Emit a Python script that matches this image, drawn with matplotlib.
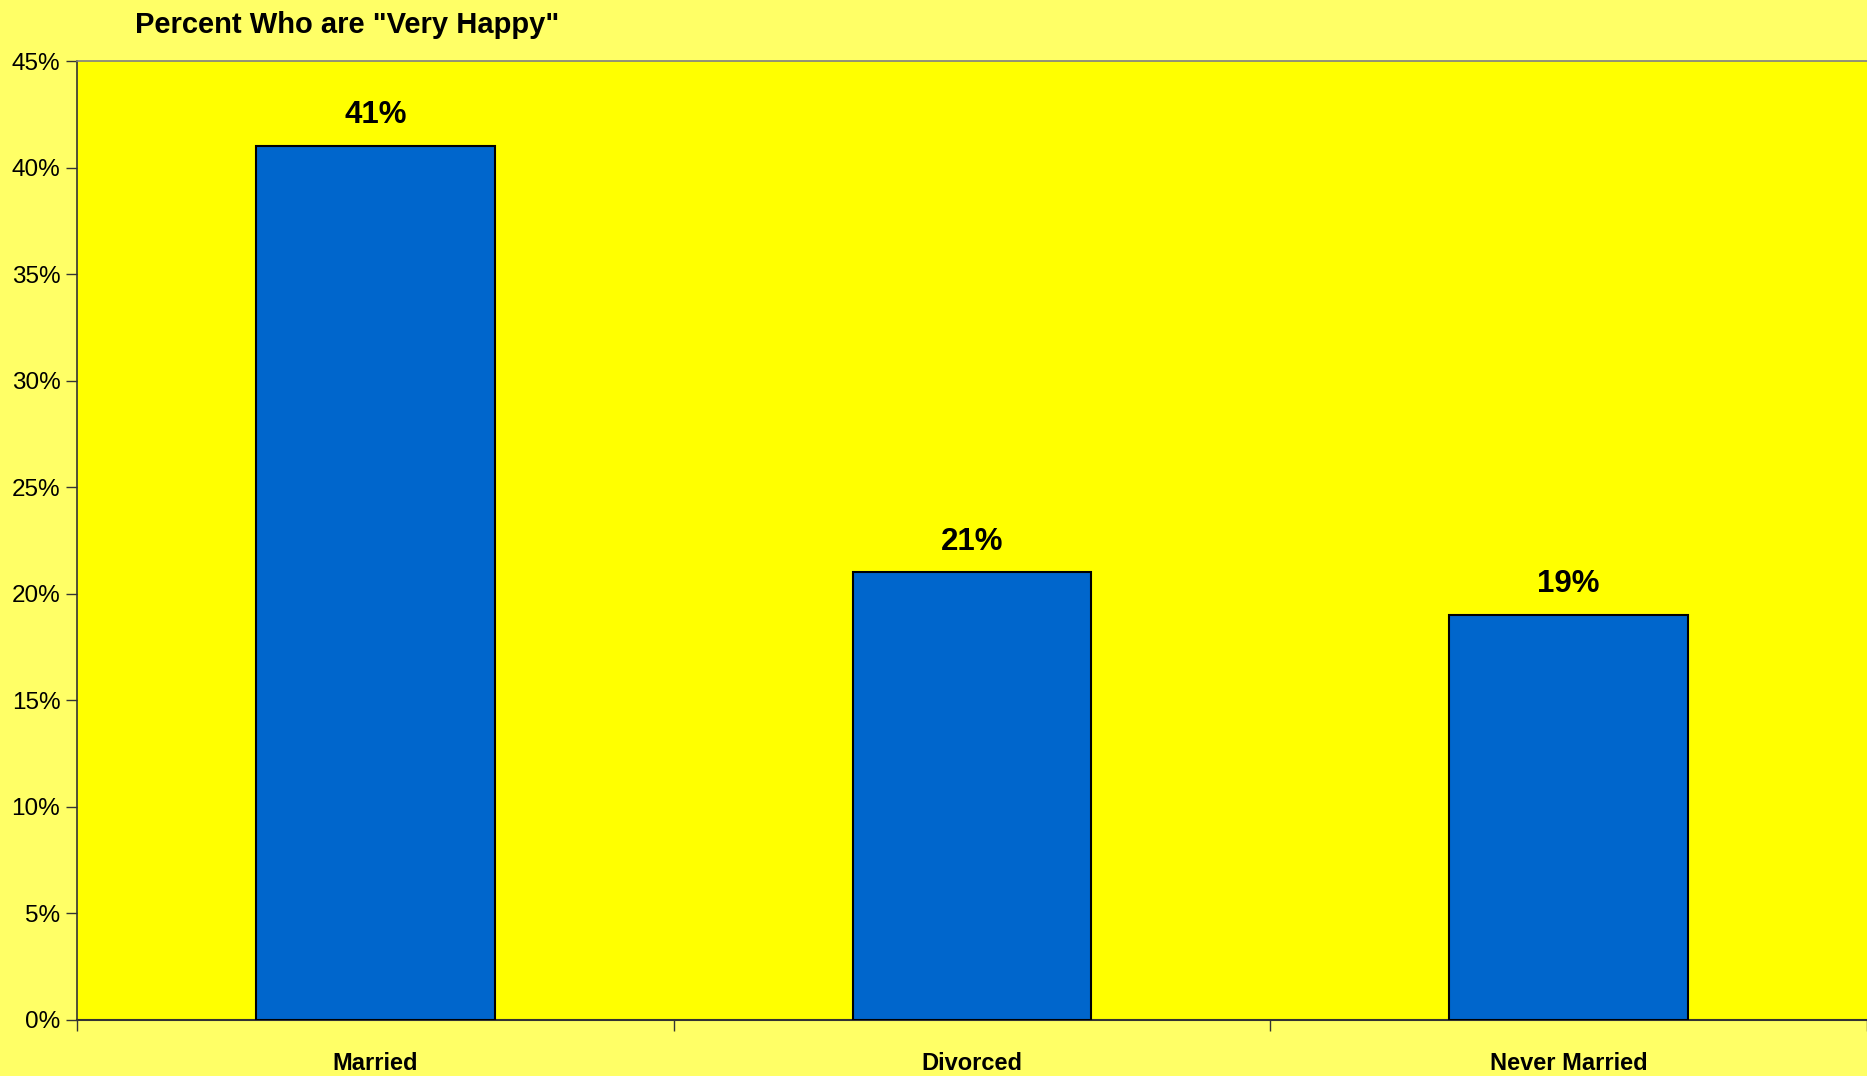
import matplotlib
matplotlib.use("Agg")
import matplotlib.pyplot as plt
from matplotlib.ticker import PercentFormatter, FixedLocator

categories = ["Married", "Divorced", "Never Married"]
values = [41, 21, 19]
value_labels = ["41%", "21%", "19%"]
title = 'Percent Who are "Very Happy"'

plt.rcParams['font.family'] = ['Liberation Sans', 'DejaVu Sans']

fig = plt.figure(figsize=(18.67, 10.76), dpi=100)
fig.patch.set_facecolor('#FFFF66')
ax = fig.add_axes([77/1867, 1 - 1020/1076, 1 - 77/1867, (1020 - 61)/1076])
ax.set_facecolor('#FFFF00')

x = list(range(len(categories)))
ax.bar(x, values, width=0.4, color='#0066CC', edgecolor='black', linewidth=1.5, zorder=3)

ax.set_xlim(-0.5, len(categories) - 0.5)
ax.set_ylim(0, 45)
ax.set_yticks(range(0, 46, 5))
ax.yaxis.set_major_formatter(PercentFormatter(decimals=0))

ax.set_xticks(x)
ax.set_xticklabels(categories, fontsize=17, fontweight='bold')
ax.tick_params(axis='x', which='major', length=0, pad=23)
ax.xaxis.set_minor_locator(FixedLocator([-0.5, 0.5, 1.5, 2.5]))
ax.tick_params(axis='x', which='minor', length=8, width=1, color='#333333')
ax.tick_params(axis='y', length=8, width=1, color='#333333', labelsize=17.5, pad=4)

ax.spines['right'].set_visible(False)
ax.spines['top'].set_color('#808080')
ax.spines['top'].set_linewidth(1.2)
ax.spines['left'].set_color('#333333')
ax.spines['bottom'].set_color('#333333')
ax.spines['left'].set_linewidth(1.2)
ax.spines['bottom'].set_linewidth(1.5)

for xi, v, lab in zip(x, values, value_labels):
    ax.annotate(lab, (xi, v), xytext=(0, 16.5), textcoords='offset points',
                ha='center', va='baseline', fontsize=22.5, fontweight='bold')

fig.text(135/1867, 1 - 33/1076, title, ha='left', va='baseline', fontsize=21,
         fontweight='bold')

fig.savefig('out.png', dpi=100, facecolor=fig.get_facecolor())
